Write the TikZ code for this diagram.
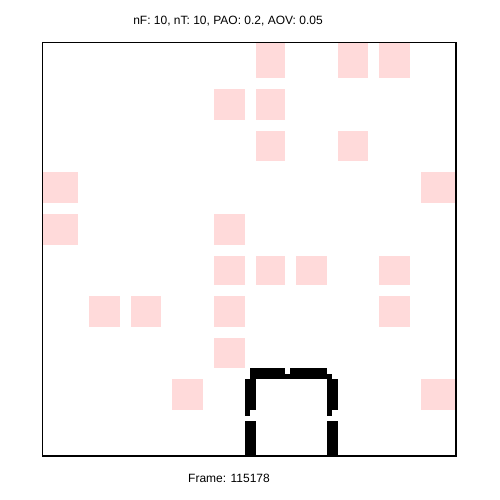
\documentclass[tikz,border=0pt]{standalone}
\usepackage{fontspec}
\setmainfont{Liberation Sans}
\begin{document}
\begin{tikzpicture}[x=1pt,y=-1pt,
  cell/.style={fill={rgb,255:red,255;green,218;blue,218}},
  wall/.style={fill=black},
  frame/.style={draw=black,line width=1.2pt},
  label/.style={font=\fontsize{12}{14}\selectfont,inner sep=0pt}]
\useasboundingbox[fill=white] (0,0) rectangle (500,500);
% pink cells
% row 0
\fill[cell] (256,42.5) rectangle (285,78);
\fill[cell] (338,42.5) rectangle (368,78);
\fill[cell] (379,42.5) rectangle (410,78);
% row 1
\fill[cell] (214,89) rectangle (245,120);
\fill[cell] (256,89) rectangle (285,120);
% row 2
\fill[cell] (256,131) rectangle (285,161);
\fill[cell] (338,131) rectangle (368,161);
% row 3
\fill[cell] (42.5,172) rectangle (78,203);
\fill[cell] (421,172) rectangle (456,203);
% row 4
\fill[cell] (42.5,214) rectangle (78,245);
\fill[cell] (214,214) rectangle (245,245);
% row 5
\fill[cell] (214,256) rectangle (245,285);
\fill[cell] (256,256) rectangle (285,285);
\fill[cell] (296,256) rectangle (327,285);
\fill[cell] (379,256) rectangle (410,285);
% row 6
\fill[cell] (89,296) rectangle (120,327);
\fill[cell] (131,296) rectangle (161,327);
\fill[cell] (214,296) rectangle (245,327);
\fill[cell] (379,296) rectangle (410,327);
% row 7
\fill[cell] (214,338) rectangle (245,368);
% row 8
\fill[cell] (172,379) rectangle (203,410);
\fill[cell] (421,379) rectangle (456,410);
% black walls
\fill[wall] (250,368) rectangle (285,379);
\fill[wall] (285,374) rectangle (290,379);
\fill[wall] (290,368) rectangle (327,379);
\fill[wall] (327,374) rectangle (332,379);
\fill[wall] (245,379) rectangle (256,410);
\fill[wall] (245,410) rectangle (250,416);
\fill[wall] (245,421) rectangle (256,456);
\fill[wall] (327,379) rectangle (338,410);
\fill[wall] (327,410) rectangle (332,416);
\fill[wall] (327,421) rectangle (338,456);
% frame
\draw[frame] (42.5,42.5) rectangle (456,456);
% labels
\node[label] (title) at (228,21) {nF: 10, nT: 10, PAO: 0.2, AOV: 0.05};
\node[label] (frameno) at (229,478) {Frame: 115178};
\end{tikzpicture}
\end{document}
